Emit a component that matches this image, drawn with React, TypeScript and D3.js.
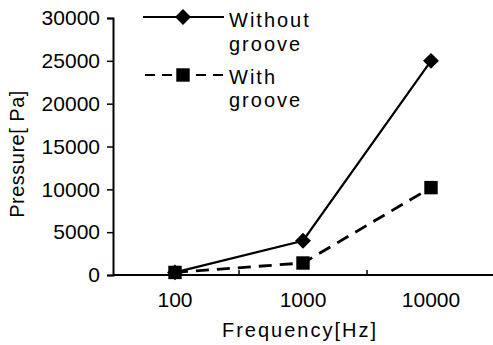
import { useEffect, useRef } from 'react';
import * as d3 from 'd3';

const frequencies = ['100', '1000', '10000'];
const withoutGroove = [300, 4000, 25000];
const withGroove = [300, 1400, 10200];
const yTicks = [0, 5000, 10000, 15000, 20000, 25000, 30000];

const W = 493;
const H = 345;
const FONT = 'Liberation Sans, Arial, sans-serif';

export default function App() {
  const svgRef = useRef<SVGSVGElement>(null);

  useEffect(() => {
    if (!svgRef.current) return;
    const svg = d3.select(svgRef.current);
    svg.selectAll('*').remove();

    const x = d3.scaleBand<string>().domain(frequencies).range([111, 495]);
    const cx = (f: string) => (x(f) as number) + x.bandwidth() / 2;
    const y = d3.scaleLinear().domain([0, 30000]).range([275, 18]);

    // y axis
    svg.append('g')
      .attr('transform', 'translate(113,0)')
      .call(d3.axisLeft(y).tickValues(yTicks).tickSize(6).tickPadding(7).tickFormat(d => String(d)))
      .call(g => g.select('.domain').attr('stroke', '#000').attr('stroke-width', 2))
      .call(g => g.selectAll('.tick line').attr('stroke', '#000').attr('stroke-width', 1.5))
      .call(g => g.selectAll('.tick text')
        .attr('fill', '#000')
        .style('font-family', FONT)
        .style('font-size', '21px'));

    // x axis (category bands, ticks between bands)
    svg.append('line')
      .attr('x1', 113).attr('x2', 493)
      .attr('y1', y(0)).attr('y2', y(0))
      .attr('stroke', '#000').attr('stroke-width', 2);

    svg.append('g')
      .selectAll('line')
      .data(frequencies.slice(1))
      .join('line')
      .attr('x1', d => x(d) as number).attr('x2', d => x(d) as number)
      .attr('y1', y(0)).attr('y2', y(0) - 5)
      .attr('stroke', '#000').attr('stroke-width', 1.5);

    svg.append('g')
      .selectAll('text')
      .data(frequencies)
      .join('text')
      .attr('x', d => cx(d))
      .attr('y', 307)
      .attr('text-anchor', 'middle')
      .style('font-family', FONT)
      .style('font-size', '21px')
      .text(d => d);

    // axis titles
    svg.append('text')
      .attr('x', 300).attr('y', 337)
      .attr('text-anchor', 'middle')
      .style('font-family', FONT).style('font-size', '20px')
      .style('letter-spacing', '2px')
      .text('Frequency[Hz]');

    svg.append('text')
      .attr('transform', 'translate(24,154) rotate(-90)')
      .attr('text-anchor', 'middle')
      .style('font-family', FONT).style('font-size', '20px')
      .style('letter-spacing', '0.5px')
      .text('Pressure[ Pa]');

    const line = d3.line<number>()
      .x((_, i) => cx(frequencies[i]))
      .y(d => y(d));

    // without groove: solid + diamonds
    svg.append('path')
      .datum(withoutGroove)
      .attr('fill', 'none').attr('stroke', '#000').attr('stroke-width', 2.2)
      .attr('d', line);

    const diamond = d3.symbol().type(d3.symbolDiamond2).size(160)();
    const square = d3.symbol().type(d3.symbolSquare).size(180)();

    svg.append('g')
      .selectAll('path')
      .data(withoutGroove)
      .join('path')
      .attr('transform', (d, i) => `translate(${cx(frequencies[i])},${y(d)})`)
      .attr('d', diamond)
      .attr('fill', '#000');

    // with groove: dashed + squares
    svg.append('path')
      .datum(withGroove)
      .attr('fill', 'none').attr('stroke', '#000').attr('stroke-width', 2.8)
      .attr('stroke-dasharray', '13,8')
      .attr('d', line);

    svg.append('g')
      .selectAll('path')
      .data(withGroove)
      .join('path')
      .attr('transform', (d, i) => `translate(${cx(frequencies[i])},${y(d)})`)
      .attr('d', square)
      .attr('fill', '#000');

    // legend
    const lg = svg.append('g');
    lg.append('line')
      .attr('x1', 143).attr('x2', 224).attr('y1', 17).attr('y2', 17)
      .attr('stroke', '#000').attr('stroke-width', 2);
    lg.append('path').attr('transform', 'translate(183,17)').attr('d', diamond).attr('fill', '#000');
    lg.append('line')
      .attr('x1', 145).attr('x2', 224).attr('y1', 75).attr('y2', 75)
      .attr('stroke', '#000').attr('stroke-width', 2)
      .attr('stroke-dasharray', '10,7');
    lg.append('path').attr('transform', 'translate(183,75)').attr('d', square).attr('fill', '#000');

    const legendText = [
      { t: 'Without', yy: 27 },
      { t: 'groove', yy: 51 },
      { t: 'With', yy: 84 },
      { t: 'groove', yy: 107 },
    ];
    lg.selectAll('text.lt')
      .data(legendText)
      .join('text')
      .attr('class', 'lt')
      .attr('x', 229).attr('y', d => d.yy)
      .style('font-family', FONT).style('font-size', '20px')
      .style('letter-spacing', '2px')
      .text(d => d.t);
  }, []);

  return (
    <svg
      ref={svgRef}
      width={W}
      height={H}
      style={{ position: 'absolute', left: 0, top: 0, background: '#fff' }}
    />
  );
}
